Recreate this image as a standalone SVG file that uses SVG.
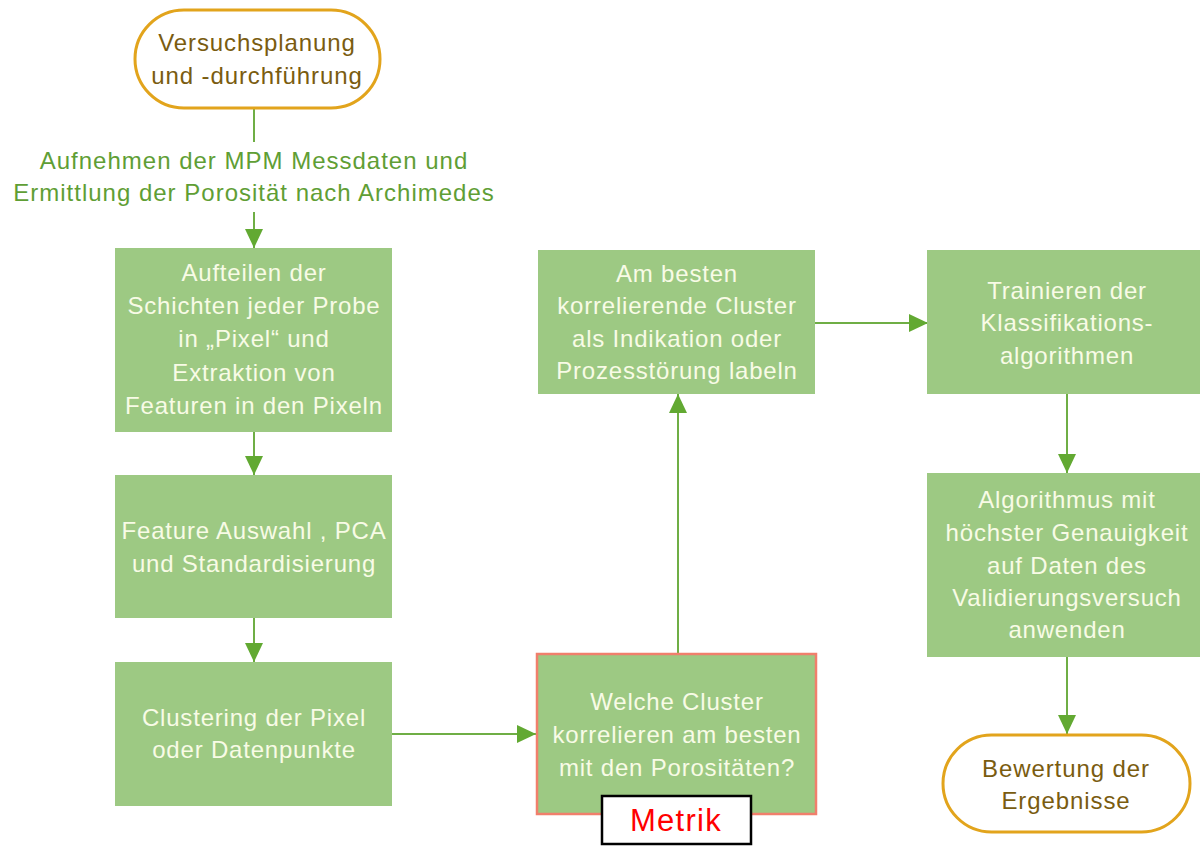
<svg xmlns="http://www.w3.org/2000/svg" width="1200" height="848" viewBox="0 0 1200 848">
  <style>
    .box { fill: #9dc983; }
    .btxt { font-family: "Liberation Sans", Arial, sans-serif; font-size: 24px; letter-spacing: 0.8px; fill: #f8fbe6; text-anchor: middle; dominant-baseline: central; }
    .term { fill: #ffffff; stroke: #e2a41c; stroke-width: 3; }
    .ttxt { font-family: "Liberation Sans", Arial, sans-serif; font-size: 24px; letter-spacing: 0.9px; fill: #7a5c10; text-anchor: middle; dominant-baseline: central; }
    .ltxt { font-family: "Liberation Sans", Arial, sans-serif; font-size: 24px; letter-spacing: 1px; fill: #5f9e35; text-anchor: middle; dominant-baseline: central; }
    .conn { stroke: #6fae45; stroke-width: 2; fill: none; }
  </style>
  <defs>
    <marker id="arrow" markerUnits="userSpaceOnUse" markerWidth="20" markerHeight="20" viewBox="0 0 20 20" refX="19" refY="10" orient="auto">
      <path d="M0,1 L19,10 L0,19 Z" fill="#62a932"/>
    </marker>
  </defs>

  <rect width="1200" height="848" fill="#ffffff"/>

  <!-- connectors -->
  <g id="connectors">
    <line class="conn" x1="254" y1="108" x2="254" y2="142"/>
    <line class="conn" x1="254" y1="212" x2="254" y2="248" marker-end="url(#arrow)"/>
    <line class="conn" x1="254" y1="432" x2="254" y2="475" marker-end="url(#arrow)"/>
    <line class="conn" x1="254" y1="618" x2="254" y2="662" marker-end="url(#arrow)"/>
    <line class="conn" x1="392" y1="734" x2="536" y2="734" marker-end="url(#arrow)"/>
    <line class="conn" x1="678" y1="653" x2="678" y2="394" marker-end="url(#arrow)"/>
    <line class="conn" x1="815" y1="323" x2="928" y2="323" marker-end="url(#arrow)"/>
    <line class="conn" x1="1067" y1="394" x2="1067" y2="473" marker-end="url(#arrow)"/>
    <line class="conn" x1="1067" y1="657" x2="1067" y2="734" marker-end="url(#arrow)"/>
  </g>

  <!-- start terminal -->
  <g id="start">
    <rect class="term" x="135" y="10" width="245" height="98" rx="49" ry="49"/>
    <text class="ttxt" x="257" y="42">Versuchsplanung</text>
    <text class="ttxt" x="257" y="75">und -durchführung</text>
  </g>

  <!-- measurement label -->
  <g id="label-messdaten">
    <text class="ltxt" x="254" y="160">Aufnehmen der MPM Messdaten und</text>
    <text class="ltxt" x="254" y="192">Ermittlung der Porosität nach Archimedes</text>
  </g>

  <g id="aufteilen">
    <rect class="box" x="115" y="248" width="277" height="184"/>
    <text class="btxt" x="254" y="272">Aufteilen der</text>
    <text class="btxt" x="254" y="305">Schichten jeder Probe</text>
    <text class="btxt" x="254" y="338">in „Pixel“ und</text>
    <text class="btxt" x="254" y="372">Extraktion von</text>
    <text class="btxt" x="254" y="405">Featuren in den Pixeln</text>
  </g>

  <g id="feature">
    <rect class="box" x="115" y="475" width="277" height="143"/>
    <text class="btxt" x="254" y="530">Feature Auswahl , PCA</text>
    <text class="btxt" x="254" y="563">und Standardisierung</text>
  </g>

  <g id="clustering">
    <rect class="box" x="115" y="662" width="277" height="144"/>
    <text class="btxt" x="254" y="717">Clustering der Pixel</text>
    <text class="btxt" x="254" y="749">oder Datenpunkte</text>
  </g>

  <g id="korrelation">
    <rect class="box" x="537" y="654" width="279" height="160" stroke="#f07f6c" stroke-width="2.5"/>
    <text class="btxt" x="677" y="701">Welche Cluster</text>
    <text class="btxt" x="677" y="734">korrelieren am besten</text>
    <text class="btxt" x="677" y="767">mit den Porositäten?</text>
  </g>

  <g id="metrik">
    <rect x="602" y="796" width="149" height="48" fill="#ffffff" stroke="#000000" stroke-width="2.5"/>
    <text x="676" y="820" font-family="Liberation Sans, Arial, sans-serif" font-size="31" letter-spacing="1.3" fill="#ff0000" text-anchor="middle" dominant-baseline="central">Metrik</text>
  </g>

  <g id="labeln">
    <rect class="box" x="538" y="250" width="277" height="144"/>
    <text class="btxt" x="677" y="273">Am besten</text>
    <text class="btxt" x="677" y="305">korrelierende Cluster</text>
    <text class="btxt" x="677" y="338">als Indikation oder</text>
    <text class="btxt" x="677" y="370">Prozesstörung labeln</text>
  </g>

  <g id="trainieren">
    <rect class="box" x="927" y="250" width="273" height="144"/>
    <text class="btxt" x="1067" y="290">Trainieren der</text>
    <text class="btxt" x="1067" y="322">Klassifikations-</text>
    <text class="btxt" x="1067" y="355">algorithmen</text>
  </g>

  <g id="anwenden">
    <rect class="box" x="927" y="473" width="273" height="184"/>
    <text class="btxt" x="1067" y="499">Algorithmus mit</text>
    <text class="btxt" x="1067" y="532">höchster Genauigkeit</text>
    <text class="btxt" x="1067" y="565">auf Daten des</text>
    <text class="btxt" x="1067" y="597">Validierungsversuch</text>
    <text class="btxt" x="1067" y="629">anwenden</text>
  </g>

  <g id="ende">
    <rect class="term" x="943" y="735" width="247" height="97" rx="48.5" ry="48.5"/>
    <text class="ttxt" x="1066" y="768">Bewertung der</text>
    <text class="ttxt" x="1066" y="800">Ergebnisse</text>
  </g>
</svg>
